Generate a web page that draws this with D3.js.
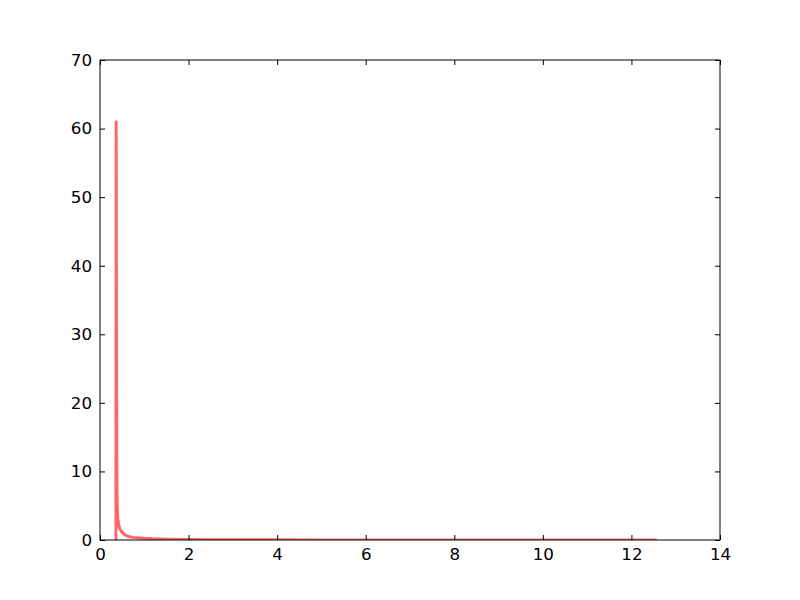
<!DOCTYPE html>
<html>
<head>
<meta charset="utf-8">
<script src="https://cdn.jsdelivr.net/npm/d3@7"></script>
<style>
  body { margin: 0; background: #fff; }
  .tick text { font-family: "DejaVu Sans", sans-serif; font-size: 16.7px; fill: #000; }
</style>
</head>
<body>
<div id="chart"></div>
<script>
// values
var xValues = [0.36, 0.365, 0.37, 0.375, 0.38, 0.385, 0.39, 0.40, 0.42, 0.45, 0.50, 0.57, 0.65, 0.75, 0.9, 1.0, 1.2, 1.5, 2.0, 2.5, 3.0, 4.0, 5.0, 6.0, 8.0, 10.0, 12.57];
var yValues = [0, 61, 40, 20, 10, 6.5, 4.8, 3.3, 2.2, 1.6, 1.1, 0.7, 0.5, 0.38, 0.3, 0.25, 0.18, 0.12, 0.07, 0.05, 0.035, 0.02, 0.015, 0.01, 0.006, 0.004, 0.003];
var xTicks = [0, 2, 4, 6, 8, 10, 12, 14];
var yTicks = [0, 10, 20, 30, 40, 50, 60, 70];

var svgWidth = 800;
var svgHeight = 600;

var margin = { top: 60, right: 80, bottom: 60, left: 100 };
var width = svgWidth - margin.left - margin.right;
var height = svgHeight - margin.top - margin.bottom;

var svg = d3.select("#chart")
  .append("svg")
  .attr("width", svgWidth)
  .attr("height", svgHeight);

var chartGroup = svg.append("g")
  .attr("transform", `translate(${margin.left}, ${margin.top})`);

var xScale = d3.scaleLinear().domain([0, 14]).range([0, width]);
var yScale = d3.scaleLinear().domain([0, 70]).range([height, 0]);

var points = xValues.map(function(x, i) { return [x, yValues[i]]; });

// line
var line = d3.line()
  .x(d => xScale(d[0]))
  .y(d => yScale(d[1]));

chartGroup.append("clipPath").attr("id", "clip")
  .append("rect").attr("width", width).attr("height", height);

chartGroup.append("path")
  .datum(points)
  .attr("clip-path", "url(#clip)")
  .attr("d", line)
  .attr("fill", "none")
  .attr("stroke", "#ff0000")
  .attr("stroke-opacity", 0.6)
  .attr("stroke-width", 3)
  .attr("stroke-linejoin", "round");

// axes, ticks pointing inward like matplotlib classic
var tickLen = 5;
chartGroup.append("g")
  .attr("transform", `translate(0, ${height})`)
  .call(d3.axisBottom(xScale).tickValues(xTicks).tickSizeInner(-tickLen).tickSizeOuter(0).tickPadding(8))
  .call(g => g.select(".domain").remove());

chartGroup.append("g")
  .call(d3.axisTop(xScale).tickValues(xTicks).tickSizeInner(-tickLen).tickSizeOuter(0).tickFormat(""))
  .call(g => g.select(".domain").remove());

chartGroup.append("g")
  .call(d3.axisLeft(yScale).tickValues(yTicks).tickSizeInner(-tickLen).tickSizeOuter(0).tickPadding(8))
  .call(g => g.select(".domain").remove());

chartGroup.append("g")
  .attr("transform", `translate(${width}, 0)`)
  .call(d3.axisRight(yScale).tickValues(yTicks).tickSizeInner(-tickLen).tickSizeOuter(0).tickFormat(""))
  .call(g => g.select(".domain").remove());

chartGroup.selectAll(".tick line").attr("stroke", "#000");

// frame
chartGroup.append("rect")
  .attr("width", width)
  .attr("height", height)
  .attr("fill", "none")
  .attr("stroke", "#000")
  .attr("stroke-width", 1);
</script>
</body>
</html>
